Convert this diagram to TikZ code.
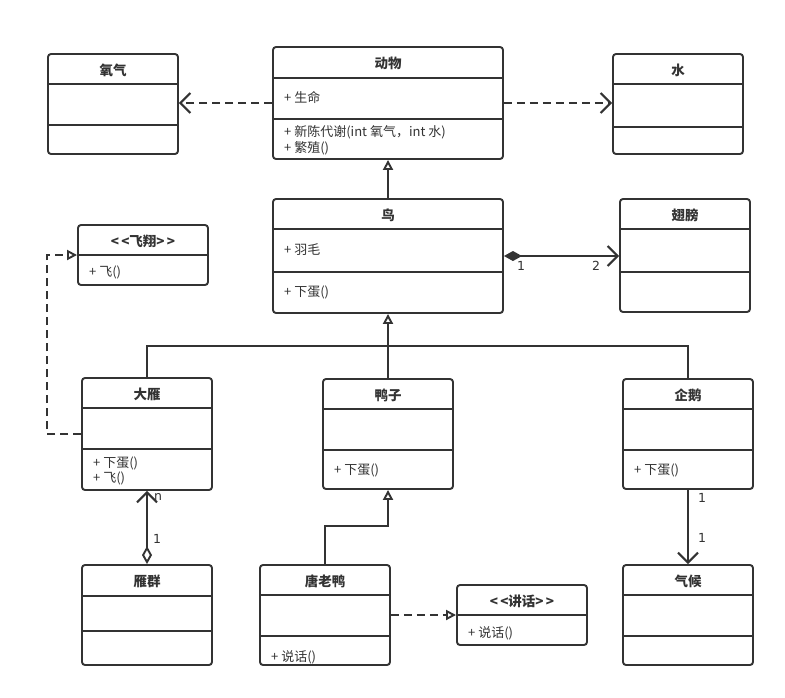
\documentclass[tikz,border=0pt]{standalone}
\usepackage{fontspec}
\setmainfont{Noto Sans CJK SC}
\newfontfamily\multfont{DejaVu Sans}
\usetikzlibrary{arrows.meta}
\definecolor{ink}{HTML}{333333}
\tikzset{
  box/.style={draw=ink, line width=1.9pt, rounded corners=3pt, inner sep=0pt, fill=white},
  sepline/.style={draw=ink, line width=1.9pt},
  ctitle/.style={font=\fontsize{13.5}{15}\selectfont\bfseries, text=ink, inner sep=0pt},
  member/.style={font=\fontsize{13}{14}\selectfont, text=ink, anchor=west, inner sep=0pt},
  mult/.style={font=\multfont\fontsize{12.5}{14}\selectfont, text=ink, inner sep=0pt},
  conn/.style={draw=ink, line width=2pt},
  dashline/.style={conn, dash pattern=on 8pt off 5pt},
  opentip/.style={-{Straight Barb[length=10pt,width=20pt,line width=2pt]}},
  gentip/.style={-{Triangle[open,length=10pt,width=10pt,fill=white,line width=1.9pt]}},
}
% name, left, top, right, bottom, header y, title
\newcommand\umlclass[7]{%
  \node[box, minimum width={(#4-#2)*1pt}, minimum height={(#5-#3)*1pt}] (#1) at ({(#2+#4)/2},{(#3+#5)/2}) {};
  \draw[sepline] (#2,#6) -- (#4,#6);
  \node[ctitle] (#1-t) at ({(#2+#4)/2},{(#3+#6)/2+1}) {#7};
}
\newcommand\umldiv[3]{\draw[sepline] (#1,#3) -- (#2,#3);}
\begin{document}
\begin{tikzpicture}[x=1pt,y=-1pt]
\useasboundingbox (0,0) rectangle (785,697);
\fill[white] (0,0) rectangle (785,697);

% classes
\umlclass{oxygen}{48}{54}{178}{154}{84}{氧气}
\umldiv{48}{178}{125}
\umlclass{animal}{273}{47}{503}{159}{78}{动物}
\umldiv{273}{503}{119}
\node[member] (animal-a) at (284,97) {+ 生命};
\node[member] (animal-m1) at (284,132) {+ 新陈代谢(int 氧气，int 水)};
\node[member] (animal-m2) at (284,148) {+ 繁殖()};
\umlclass{water}{613}{54}{743}{154}{84}{水}
\umldiv{613}{743}{127}

\umlclass{fly}{78}{225}{208}{285}{255}{<\,<飞翔>\,>}
\node[member] (fly-m) at (89,272) {+ 飞()};
\umlclass{bird}{273}{199}{503}{313}{229}{鸟}
\umldiv{273}{503}{272}
\node[member] (bird-a) at (284,250) {+ 羽毛};
\node[member] (bird-m) at (284,292) {+ 下蛋()};
\umlclass{wing}{620}{199}{750}{312}{229}{翅膀}
\umldiv{620}{750}{272}

\umlclass{goose}{82}{378}{212}{490}{408}{大雁}
\umldiv{82}{212}{449}
\node[member] (goose-m1) at (93,463) {+ 下蛋()};
\node[member] (goose-m2) at (93,478) {+ 飞()};
\umlclass{duck}{323}{379}{453}{489}{409}{鸭子}
\umldiv{323}{453}{450}
\node[member] (duck-m) at (334,470) {+ 下蛋()};
\umlclass{penguin}{623}{379}{753}{489}{409}{企鹅}
\umldiv{623}{753}{450}
\node[member] (penguin-m) at (634,470) {+ 下蛋()};

\umlclass{flock}{82}{565}{212}{665}{596}{雁群}
\umldiv{82}{212}{631}
\umlclass{donald}{260}{565}{390}{665}{595}{唐老鸭}
\umldiv{260}{390}{636}
\node[member] (donald-m) at (271,657) {+ 说话()};
\umlclass{speak}{457}{585}{587}{645}{615}{<\,<讲话>\,>}
\node[member] (speak-m) at (468,633) {+ 说话()};
\umlclass{climate}{623}{565}{753}{665}{595}{气候}
\umldiv{623}{753}{636}

% dependencies
\draw[dashline, opentip] (animal.west) -- (animal.west -| oxygen.east);
\draw[dashline, opentip] (animal.east) -- (animal.east -| water.west);

% composition
\draw[conn, {Diamond[length=18pt,width=10pt,fill=ink]}-{Straight Barb[length=10pt,width=20pt,line width=2pt]}] (bird.east) -- (bird.east -| wing.west);
\node[mult] (c1) at (521,266) {1};
\node[mult] (c2) at (596,266) {2};

% generalisation
\draw[conn, gentip] (bird.north) -- (animal.south);
\coordinate (joint) at (388,346);
\draw[conn] (goose.north) |- (joint);
\draw[conn] (penguin.north) |- (joint);
\draw[conn, gentip] (duck.north) -- (bird.south);
\draw[conn, gentip] (donald.north) -- ++(0,-38) -| (duck.south);

% realisation
\draw[dashline, gentip] (goose.west) -- ++(-34,0) |- (fly.west);
\draw[dashline, gentip] (donald.east) -- (speak.west);

% aggregation
\draw[conn, {Diamond[open,length=18pt,width=10pt,fill=white,line width=1.9pt]}-{Straight Barb[length=10pt,width=20pt,line width=2pt]}] (flock.north) -- (goose.south);
\node[mult] (an) at (158,497) {n};
\node[mult] (a1) at (157,539) {1};

% association
\draw[conn, opentip] (penguin.south) -- (climate.north);
\node[mult] (p1) at (702,498) {1};
\node[mult] (p2) at (702,538) {1};
\end{tikzpicture}
\end{document}
